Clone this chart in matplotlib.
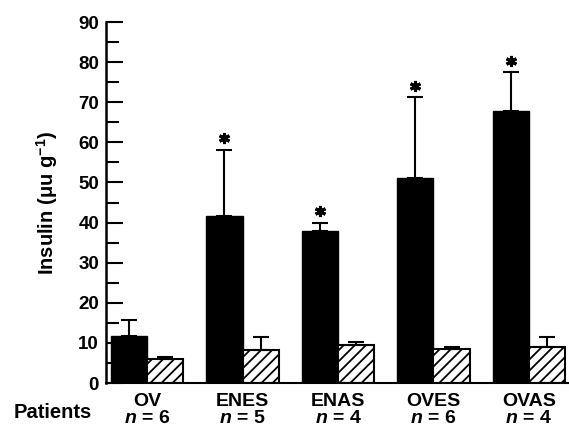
import matplotlib
matplotlib.use("Agg")
import matplotlib.pyplot as plt
import numpy as np

plt.rcParams['font.family'] = ['Liberation Sans', 'DejaVu Sans']
plt.rcParams['hatch.linewidth'] = 1.3
plt.rcParams['mathtext.fontset'] = 'custom'
plt.rcParams['mathtext.it'] = 'Liberation Sans:italic:bold'
plt.rcParams['mathtext.rm'] = 'Liberation Sans:bold'
plt.rcParams['mathtext.bf'] = 'Liberation Sans:bold'

groups = ["OV", "ENES", "ENAS", "OVES", "OVAS"]
n_patients = [6, 5, 4, 6, 4]
black_vals = [11.8, 41.6, 38.0, 51.0, 67.8]
black_err = [3.9, 16.6, 2.0, 20.2, 9.8]
hatch_vals = [5.9, 8.2, 9.5, 8.6, 9.1]
hatch_err = [0.6, 3.3, 0.6, 0.4, 2.3]
significant = [False, True, True, True, True]

fig = plt.figure(figsize=(5.69, 4.30), dpi=100)
ax = fig.add_axes([0.1863, 0.1093, 0.8137, 0.8395])

x = np.arange(len(groups))
w = 0.38
ax.bar(x - w / 2, black_vals, width=w, color='black', edgecolor='black', linewidth=1.0,
       yerr=[np.zeros(len(x)), black_err], error_kw=dict(ecolor='black', elinewidth=1.5,
       capsize=6, capthick=1.5), zorder=2)
ax.bar(x + w / 2, hatch_vals, width=w, color='white', edgecolor='black', linewidth=1.5,
       hatch='///', yerr=[np.zeros(len(x)), hatch_err],
       error_kw=dict(ecolor='black', elinewidth=1.5, capsize=6, capthick=1.5), zorder=2)

for xi, v, e, s in zip(x, black_vals, black_err, significant):
    if s:
        ax.plot(xi - w / 2, v + e + 2.8, marker=(6, 2, 0), color='black', markersize=8,
                markeredgewidth=2.2, zorder=3)

ax.set_ylim(0, 90)
ax.set_xlim(-0.43, 4.42)
ax.set_yticks(np.arange(0, 91, 10))
ax.set_yticks(np.arange(5, 90, 10), minor=True)
ax.tick_params(axis='y', which='major', direction='in', length=12, width=1.5, pad=5,
               labelsize=13.5)
ax.tick_params(axis='y', which='minor', direction='in', length=9, width=1.5)
for lab in ax.get_yticklabels():
    lab.set_fontweight('bold')
ax.set_xticks([])
for sp in ['top', 'right']:
    ax.spines[sp].set_visible(False)
ax.spines['left'].set_linewidth(1.8)
ax.spines['bottom'].set_linewidth(1.5)

ax.set_ylabel('Insulin (\u03bcu g$^{-1}$)', fontsize=14.5, fontweight='bold', labelpad=13)

for xi, g, n in zip(x, groups, n_patients):
    ax.annotate(g, xy=(xi, 0), xycoords=('data', 'axes fraction'), xytext=(0, -18),
                textcoords='offset pixels', ha='center', va='center', fontsize=14,
                fontweight='bold')
    ax.annotate(r'$n$ = %d' % n, xy=(xi, 0), xycoords=('data', 'axes fraction'),
                xytext=(0, -35), textcoords='offset pixels', ha='center', va='center',
                fontsize=14, fontweight='bold')

fig.text(14 / 569, 1 - 413 / 430, 'Patients', ha='left', va='center', fontsize=14.5,
         fontweight='bold')

fig.savefig('out.png', dpi=100)
